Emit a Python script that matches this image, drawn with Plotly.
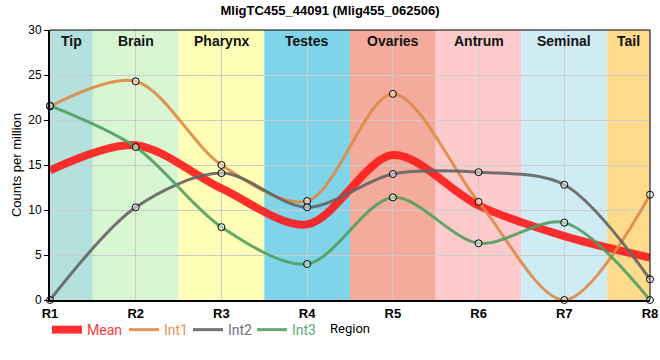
import plotly.graph_objects as go

title = "MligTC455_44091 (Mlig455_062506)"
categories = ["R1", "R2", "R3", "R4", "R5", "R6", "R7", "R8"]
mean_vals = [14.4, 17.2, 12.4, 8.4, 16.1, 10.5, 7.1, 4.7]
int1_vals = [21.5, 24.3, 15.0, 11.0, 22.9, 10.9, 0.0, 11.7]
int2_vals = [0.0, 10.3, 14.1, 10.3, 14.0, 14.2, 12.8, 2.3]
int3_vals = [21.6, 17.0, 8.1, 4.0, 11.4, 6.3, 8.6, 0.0]
region_names = ["Tip", "Brain", "Pharynx", "Testes", "Ovaries", "Antrum", "Seminal", "Tail"]
region_colors = ["#b4e1dd", "#d8f6d1", "#fefeb6", "#7fd4ea", "#f4ab9c", "#fdcbcc", "#cfebf4", "#fdda8c"]
y_ticks = [0, 5, 10, 15, 20, 25, 30]

FONT = "Liberation Sans, Arial, sans-serif"

fig = go.Figure()

n = len(categories)
for i, (name, col) in enumerate(zip(region_names, region_colors)):
    x0 = max(i - 0.5, 0)
    x1 = min(i + 0.5, n - 1)
    fig.add_shape(type="rect", xref="x", yref="paper", x0=x0, x1=x1, y0=0, y1=1,
                  fillcolor=col, line_width=0, layer="below")
    fig.add_annotation(x=(x0 + x1) / 2, y=1, xref="x", yref="paper", yanchor="top",
                       yshift=-1, text=f"<b>{name}</b>", showarrow=False,
                       font=dict(family=FONT, size=14, color="#111"))

marker = dict(symbol="circle", size=7, color="rgba(255,255,255,0.45)",
              line=dict(color="black", width=1))

series = [
    ("Mean", mean_vals, "rgba(255,25,25,0.9)", 8, False, 32),
    ("Int1", int1_vals, "rgba(222,138,70,0.9)", 3, True, 19),
    ("Int2", int2_vals, "rgba(100,100,100,0.9)", 3, True, 19),
    ("Int3", int3_vals, "rgba(80,158,95,0.9)", 3, True, 24),
]
legend_text_colors = {"Mean": "#ff3b3b", "Int1": "#e69352", "Int2": "#6e6e7a", "Int3": "#63a874"}

for name, vals, col, w, mk, lw in series:
    fig.add_trace(go.Scatter(
        x=categories, y=vals, showlegend=False,
        mode="lines+markers" if mk else "lines",
        line=dict(color=col, width=w, shape="spline", smoothing=0.9),
        marker=marker if mk else None, cliponaxis=False, hoverinfo="skip",
    ))
# legend-only entries (line swatch only)
for name, vals, col, w, mk, lw in series:
    fig.add_trace(go.Scatter(
        x=[None], y=[None], mode="lines",
        name=f"<span style='color:{legend_text_colors[name]}'>{name}</span>",
        line=dict(color=col, width=w), showlegend=True, legendwidth=lw,
    ))

fig.update_layout(
    width=660, height=360,
    margin=dict(l=50, r=10, t=30, b=60, autoexpand=False),
    paper_bgcolor="white", plot_bgcolor="white",
    title=dict(text=f"<b>{title}</b>", x=0.5, xanchor="center", y=0.985, yanchor="top",
               font=dict(family=FONT, size=13, color="black")),
    font=dict(family=FONT, size=12, color="black"),
    legend=dict(orientation="h", x=-0.005, xanchor="left", y=-0.052, yanchor="top",
                font=dict(family="Roboto, sans-serif", size=14), itemwidth=30,
                bgcolor="rgba(0,0,0,0)", tracegroupgap=0),
    showlegend=True,
)

fig.update_xaxes(
    range=[0, n - 1], showgrid=True, gridcolor="#cccccc", gridwidth=1, automargin=False,
    showline=True, linecolor="black", linewidth=2, mirror=False,
    tickmode="array", tickvals=categories, ticktext=[f"<b>{c}</b>" for c in categories],
    tickfont=dict(family=FONT, size=13, color="black"), ticks="",
    title=dict(text="Region", font=dict(family="Roboto, sans-serif", size=13), standoff=4),
)
fig.update_yaxes(
    range=[0, 30], tickvals=y_ticks, showgrid=True, gridcolor="#cccccc", gridwidth=1,
    automargin=False,
    showline=True, linecolor="black", linewidth=2, ticks="outside", ticklen=4,
    tickcolor="black", tickfont=dict(family=FONT, size=12, color="black"),
    title=dict(text="Counts per million", font=dict(family=FONT, size=13), standoff=4),
    zeroline=False,
)

# thin top and right frame
fig.add_shape(type="line", xref="paper", yref="paper", x0=0, x1=1, y0=1, y1=1,
              line=dict(color="black", width=1))
fig.add_shape(type="line", xref="paper", yref="paper", x0=1, x1=1, y0=0, y1=1,
              line=dict(color="black", width=1))

fig.write_html("out.html", config={"displayModeBar": False},
               post_script="document.body.style.margin='0';")
